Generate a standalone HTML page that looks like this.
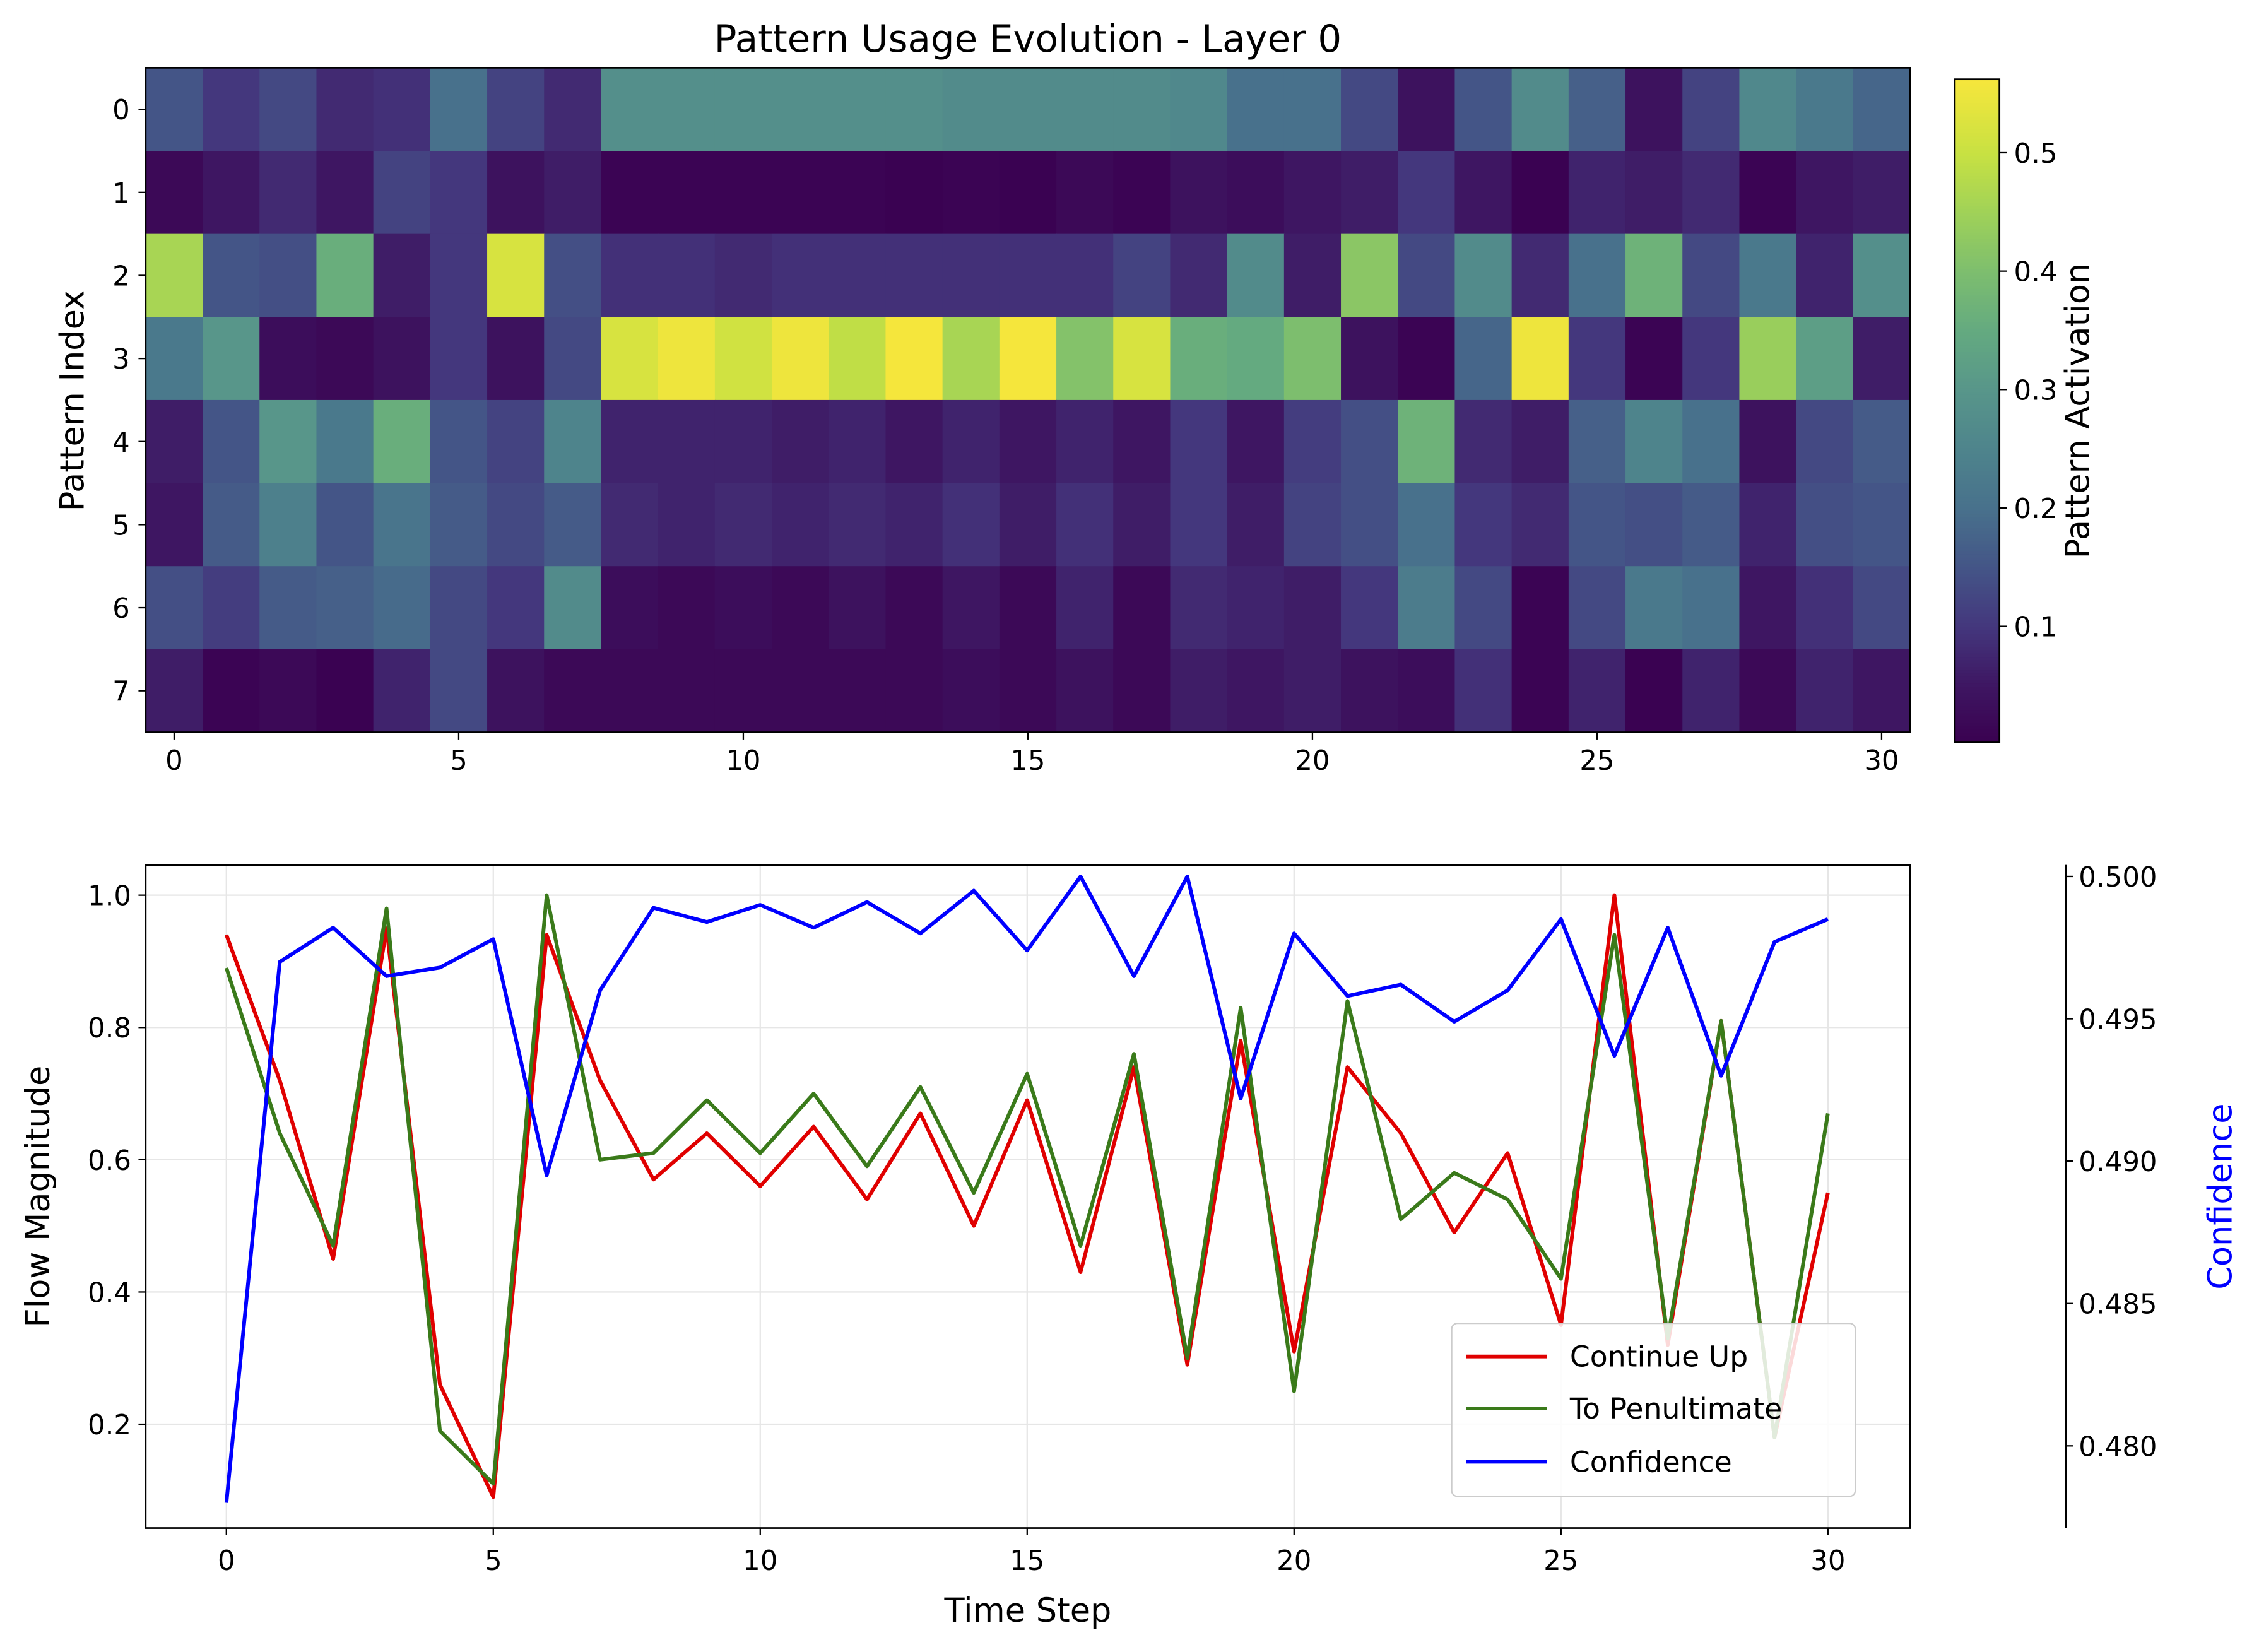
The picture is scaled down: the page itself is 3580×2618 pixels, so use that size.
<!DOCTYPE html>
<html><head><meta charset="utf-8"><style>
html,body{margin:0;padding:0;background:#fff}
svg{display:block}
text{font-family:"DejaVu Sans","Liberation Sans",sans-serif;fill:#000}
</style></head><body>
<svg id="fig" xmlns="http://www.w3.org/2000/svg" width="3580" height="2618" viewBox="0 0 1567 1146">
<rect width="1567" height="1146" fill="#fff"/>
<g id="heat"></g>
<g id="cbar"></g>
<g id="lines"></g>
</svg>
<script>
const heatRows = [
[0.15,0.1,0.13,0.08,0.09,0.2,0.12,0.08,0.28,0.28,0.28,0.28,0.28,0.28,0.27,0.27,0.27,0.27,0.26,0.2,0.2,0.13,0.04,0.15,0.27,0.17,0.04,0.12,0.26,0.22,0.18],
[0.02,0.05,0.08,0.05,0.12,0.1,0.04,0.06,0.01,0.01,0.01,0.01,0.01,0.005,0.01,0.005,0.02,0.01,0.04,0.03,0.05,0.06,0.1,0.05,0.005,0.07,0.06,0.08,0.01,0.05,0.06],
[0.46,0.15,0.14,0.36,0.06,0.1,0.52,0.14,0.09,0.09,0.08,0.09,0.09,0.09,0.09,0.09,0.09,0.12,0.08,0.27,0.06,0.42,0.13,0.27,0.08,0.2,0.37,0.13,0.22,0.07,0.28],
[0.22,0.3,0.03,0.02,0.04,0.1,0.04,0.13,0.52,0.55,0.51,0.55,0.49,0.56,0.46,0.56,0.41,0.52,0.36,0.35,0.4,0.04,0.01,0.18,0.55,0.1,0.01,0.1,0.44,0.32,0.06],
[0.06,0.15,0.3,0.22,0.36,0.15,0.12,0.25,0.07,0.07,0.07,0.06,0.07,0.05,0.07,0.05,0.07,0.05,0.1,0.05,0.11,0.14,0.37,0.08,0.06,0.17,0.25,0.2,0.04,0.13,0.16],
[0.05,0.16,0.24,0.15,0.21,0.16,0.13,0.16,0.08,0.07,0.08,0.07,0.08,0.07,0.09,0.06,0.09,0.06,0.1,0.06,0.12,0.14,0.2,0.1,0.08,0.15,0.14,0.16,0.07,0.14,0.15],
[0.14,0.11,0.16,0.17,0.19,0.13,0.1,0.27,0.03,0.02,0.03,0.02,0.04,0.02,0.05,0.02,0.07,0.02,0.08,0.07,0.06,0.1,0.23,0.13,0.01,0.13,0.22,0.2,0.05,0.09,0.13],
[0.06,0.01,0.02,0.005,0.07,0.13,0.04,0.02,0.02,0.02,0.02,0.02,0.02,0.02,0.03,0.02,0.04,0.02,0.06,0.05,0.06,0.04,0.03,0.09,0.01,0.07,0.005,0.07,0.02,0.07,0.05]
];
const heatXTicks = [0,5,10,15,20,25,30];
const heatYTicks = [0,1,2,3,4,5,6,7];
const cbarTicks = [0.1,0.2,0.3,0.4,0.5];
const continueUp = [0.94,0.72,0.45,0.95,0.26,0.09,0.94,0.72,0.57,0.64,0.56,0.65,0.54,0.67,0.50,0.69,0.43,0.74,0.29,0.78,0.31,0.74,0.64,0.49,0.61,0.35,1.0,0.32,0.81,0.18,0.55];
const toPenultimate = [0.89,0.64,0.47,0.98,0.19,0.11,1.0,0.60,0.61,0.69,0.61,0.70,0.59,0.71,0.55,0.73,0.47,0.76,0.30,0.83,0.25,0.84,0.51,0.58,0.54,0.42,0.94,0.33,0.81,0.18,0.67];
const confidence = [0.478,0.497,0.4982,0.4965,0.4968,0.4978,0.4895,0.496,0.4989,0.4984,0.499,0.4982,0.4991,0.498,0.4995,0.4974,0.5,0.4965,0.5,0.4922,0.498,0.4958,0.4962,0.4949,0.496,0.4985,0.4937,0.4982,0.493,0.4977,0.4985];
const lineXTicks = [0,5,10,15,20,25,30];
const leftYTicks = [0.2,0.4,0.6,0.8,1.0];
const rightYTicks = [0.480,0.485,0.490,0.495,0.500];

const NS='http://www.w3.org/2000/svg';
function mk(tag, attrs, parent, txt){const e=document.createElementNS(NS,tag);for(const k in attrs)e.setAttribute(k,attrs[k]);if(txt!==undefined)e.textContent=txt;parent.appendChild(e);return e;}
const CS=[[0.0,[58,0,80]],[0.05,[62,22,98]],[0.1,[68,55,125]],[0.15,[68,85,135]],[0.2,[72,113,140]],[0.25,[78,132,140]],[0.3,[88,150,138]],[0.35,[100,170,128]],[0.4,[125,190,110]],[0.45,[160,210,88]],[0.5,[200,225,66]],[0.56,[245,230,60]]];
function cmap(v){if(v<=0)return `rgb(${CS[0][1]})`;for(let i=0;i<CS.length-1;i++){const [a,ca]=CS[i],[b,cb]=CS[i+1];if(v<=b){const f=(v-a)/(b-a);return `rgb(${ca.map((x,k)=>Math.round(x+(cb[k]-x)*f)).join(',')})`;}}return `rgb(${CS[CS.length-1][1]})`;}
const VMIN=0.002,VMAX=0.562;

const H=document.getElementById('heat');
const hx0=101,hx1=1325,hy0=47,hy1=508;
const nC=heatRows[0].length,nR=heatRows.length;
const cw=(hx1-hx0)/nC,rh=(hy1-hy0)/nR;
const hX=c=>hx0+(c+0.5)*cw, hY=r=>hy0+(r+0.5)*rh;
heatRows.forEach((row,r)=>row.forEach((v,c)=>{
  const e=mk('rect',{x:hX(c)-cw/2,y:hY(r)-rh/2,width:cw+0.4,height:rh+0.4,fill:cmap(v)},H);
  
  
}));
mk('rect',{x:hx0,y:hy0,width:hx1-hx0,height:hy1-hy0,fill:'none',stroke:'#000','stroke-width':1.2},H);
heatXTicks.forEach(t=>{mk('line',{x1:hX(t),x2:hX(t),y1:hy1,y2:hy1+5,stroke:'#000'},H);
  const e=mk('text',{x:hX(t),y:hy1+26,'font-size':19,'text-anchor':'middle'},H,String(t));
  });
heatYTicks.forEach(t=>{mk('line',{x1:hx0-5,x2:hx0,y1:hY(t),y2:hY(t),stroke:'#000'},H);
  const e=mk('text',{x:hx0-11,y:hY(t)+7,'font-size':19,'text-anchor':'end'},H,String(t));
  });
let t1=mk('text',{x:713,y:36,'font-size':26,'text-anchor':'middle'},H,'Pattern Usage Evolution - Layer 0');

let t2=mk('text',{x:58,y:278,'font-size':23,'text-anchor':'middle',transform:'rotate(-90 58 278)'},H,'Pattern Index');


const C=document.getElementById('cbar');
const bx=1356,bw=31,by0=55,by1=515;
const cbY=v=>by1-(v-VMIN)/(VMAX-VMIN)*(by1-by0);
for(let i=0;i<200;i++){const v0=VMIN+(VMAX-VMIN)*i/200,v1=VMIN+(VMAX-VMIN)*(i+1)/200;
  mk('rect',{x:bx,y:cbY(v1),width:bw,height:cbY(v0)-cbY(v1)+0.5,fill:cmap((v0+v1)/2)},C);}
mk('rect',{x:bx,y:by0,width:bw,height:by1-by0,fill:'none',stroke:'#000','stroke-width':1.2},C);
cbarTicks.forEach(t=>{mk('line',{x1:bx+bw,x2:bx+bw+5,y1:cbY(t),y2:cbY(t),stroke:'#000'},C);
  const e=mk('text',{x:bx+bw+10,y:cbY(t)+7,'font-size':19},C,t.toFixed(1));
  });
let t3=mk('text',{x:1449,y:285,'font-size':23,'text-anchor':'middle',transform:'rotate(-90 1449 285)'},C,'Pattern Activation');


const L=document.getElementById('lines');
const lx0=101,lx1=1325,ly0=600,ly1=1060;
const xS=i=>157+i*(1268-157)/30;
const yL=v=>988-(v-0.2)*(988-621)/0.8;
const yR=v=>608+(0.5-v)*(1003-608)/0.02;
lineXTicks.forEach(t=>mk('line',{x1:xS(t),x2:xS(t),y1:ly0,y2:ly1,stroke:'#e6e6e6','stroke-width':1},L));
leftYTicks.forEach(t=>mk('line',{x1:lx0,x2:lx1,y1:yL(t),y2:yL(t),stroke:'#e6e6e6','stroke-width':1},L));
function series(data,yf,color,name){
  const e=mk('polyline',{points:data.map((v,i)=>xS(i)+','+yf(v)).join(' '),fill:'none',stroke:color,'stroke-width':2.6,'stroke-linejoin':'round'},L);
  
}
series(continueUp,yL,'#e00000','continue-up-line');
series(toPenultimate,yL,'#3a7a1a','to-penultimate-line');
series(confidence,yR,'#0000ff','confidence-line');
mk('rect',{x:lx0,y:ly0,width:lx1-lx0,height:ly1-ly0,fill:'none',stroke:'#000','stroke-width':1.2},L);
lineXTicks.forEach(t=>{mk('line',{x1:xS(t),x2:xS(t),y1:ly1,y2:ly1+5,stroke:'#000'},L);
  const e=mk('text',{x:xS(t),y:ly1+29,'font-size':19,'text-anchor':'middle'},L,String(t));
  });
leftYTicks.forEach(t=>{mk('line',{x1:lx0-5,x2:lx0,y1:yL(t),y2:yL(t),stroke:'#000'},L);
  const e=mk('text',{x:lx0-10,y:yL(t)+7,'font-size':19,'text-anchor':'end'},L,t.toFixed(1));
  });
mk('line',{x1:1433,x2:1433,y1:ly0,y2:ly1,stroke:'#000','stroke-width':1.2},L);
rightYTicks.forEach(t=>{mk('line',{x1:1433,x2:1438,y1:yR(t),y2:yR(t),stroke:'#000'},L);
  const e=mk('text',{x:1442,y:yR(t)+7,'font-size':19},L,t.toFixed(3));
  });
let t4=mk('text',{x:713,y:1125,'font-size':23,'text-anchor':'middle'},L,'Time Step');

let t5=mk('text',{x:34,y:830,'font-size':23,'text-anchor':'middle',transform:'rotate(-90 34 830)'},L,'Flow Magnitude');

let t6=mk('text',{x:1548,y:830,'font-size':23,'text-anchor':'middle',style:'fill:#0000ff',transform:'rotate(-90 1548 830)'},L,'Confidence');


const lg=mk('g',{},L);


mk('rect',{x:1007,y:918,width:280,height:120,rx:4,fill:'#fff','fill-opacity':0.85,stroke:'#ccc'},lg);
[['Continue Up','#e00000',941],['To Penultimate','#3a7a1a',977],['Confidence','#0000ff',1014]].forEach(([n,c,y])=>{
  mk('line',{x1:1017,x2:1073,y1:y,y2:y,stroke:c,'stroke-width':2.6},lg);
  const e=mk('text',{x:1089,y:y+7,'font-size':20},lg,n);
  
});
</script>
</body></html>
